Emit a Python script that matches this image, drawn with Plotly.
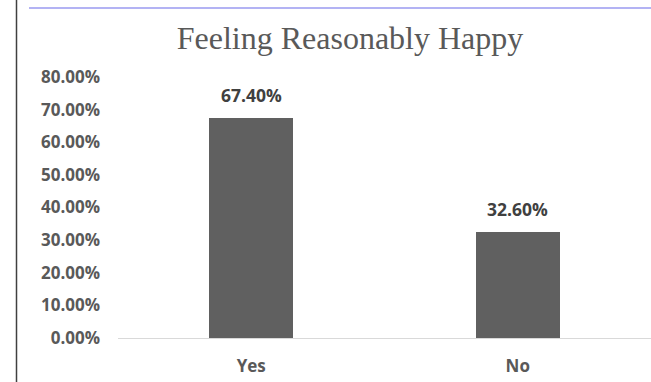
import plotly.graph_objects as go

categories = ["Yes", "No"]
values = [67.40, 32.60]
tick_vals = [0, 10, 20, 30, 40, 50, 60, 70, 80]
tick_text = ["0.00%", "10.00%", "20.00%", "30.00%", "40.00%", "50.00%", "60.00%", "70.00%", "80.00%"]

W, H = 651, 382
plot_top, plot_bottom = 77, 338
plot_left, plot_right = 118, 651

fig = go.Figure()
fig.add_trace(go.Bar(
    x=categories,
    y=values,
    width=0.315,
    marker=dict(color="#606060", line=dict(width=0)),
    hoverinfo="x+y",
))

# value labels above each bar
for cat, val in zip(categories, values):
    fig.add_annotation(
        x=cat, y=val, xref="x", yref="y",
        text=f"{val:.2f}%", showarrow=False,
        yanchor="bottom", yshift=9,
        font=dict(family="Open Sans", size=17.5, color="#404040", weight="bold"),
    )

fig.update_layout(
    width=W, height=H,
    margin=dict(l=plot_left, r=W - plot_right, t=plot_top, b=H - plot_bottom, autoexpand=False),
    paper_bgcolor="white",
    plot_bgcolor="white",
    showlegend=False,
    bargap=0,
    title=dict(
        text="Feeling Reasonably Happy",
        font=dict(family="Liberation Serif", size=32, color="#595959"),
        x=350 / W, xanchor="center",
        y=1 - 38 / H, yanchor="middle",
    ),
    xaxis=dict(
        showline=True, linecolor="#d9d9d9", linewidth=1,
        ticks="", showgrid=False, ticklabelstandoff=13,
        tickfont=dict(family="Open Sans", size=17, color="#595959", weight="bold"),
    ),
    yaxis=dict(
        range=[0, 80],
        tickvals=tick_vals, ticktext=tick_text,
        showgrid=False, zeroline=False, showline=False,
        ticks="", ticklabelstandoff=17,
        tickfont=dict(family="Open Sans", size=17, color="#595959", weight="bold"),
    ),
    shapes=[
        # frame lines around the chart
        dict(type="line", xref="paper", yref="paper",
             x0=(16.5 - plot_left) / (plot_right - plot_left), x1=(16.5 - plot_left) / (plot_right - plot_left),
             y0=-0.5, y1=2, line=dict(color="#404040", width=1.5)),
        dict(type="line", xref="paper", yref="paper",
             x0=(29 - plot_left) / (plot_right - plot_left), x1=1.2,
             y0=(plot_bottom - 8) / (plot_bottom - plot_top), y1=(plot_bottom - 8) / (plot_bottom - plot_top),
             line=dict(color="#9a9af0", width=1.5)),
    ],
)

fig.write_html("out.html")
